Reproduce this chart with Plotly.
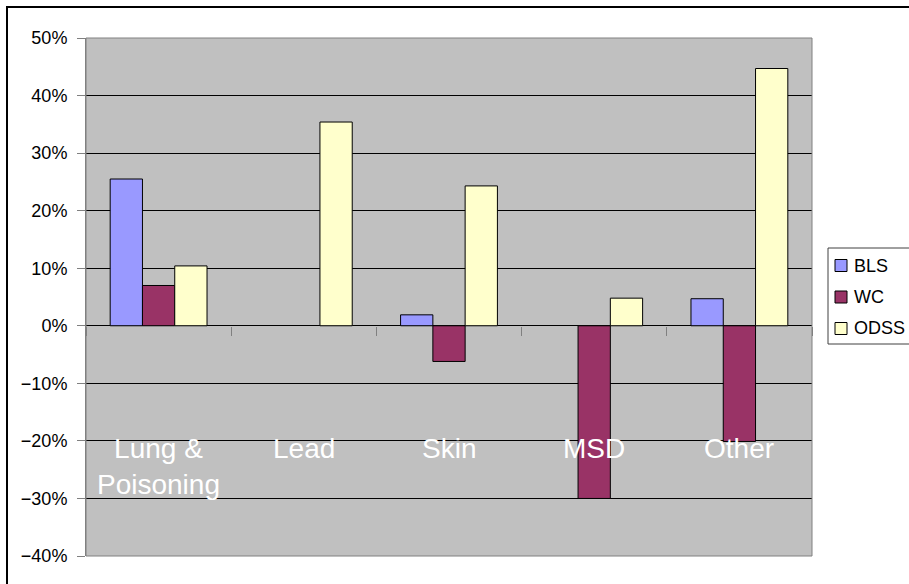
import plotly.graph_objects as go

categories = ["Lung &<br>Poisoning", "Lead", "Skin", "MSD", "Other"]
series_names = ["BLS", "WC", "ODSS"]
bls = [0.255, None, 0.019, None, 0.047]
wc = [0.070, None, -0.062, -0.300, -0.201]
odss = [0.104, 0.354, 0.243, 0.048, 0.447]
series_values = [bls, wc, odss]
series_colors = ["#9999FF", "#993366", "#FFFFCC"]
y_ticks = [-0.4, -0.3, -0.2, -0.1, 0.0, 0.1, 0.2, 0.3, 0.4, 0.5]

FONT = "Arial, Liberation Sans, sans-serif"
W, H = 909, 584
L, R, T, B = 86, 812, 38, 556


def px_x(p):
    return (p - L) / (R - L)


def px_y(p):
    return (B - p) / (B - T)


fig = go.Figure()
for name, vals, col in zip(series_names, series_values, series_colors):
    fig.add_trace(go.Bar(
        x=categories, y=vals, name=name,
        marker=dict(color=col, line=dict(color="black", width=1)),
        showlegend=False,
    ))

shapes = []
annotations = []

# plot area border
shapes.append(dict(type="rect", xref="paper", yref="paper", x0=0, x1=1, y0=0, y1=1,
                   line=dict(color="#808080", width=1), layer="above"))
# outer chart border
shapes.append(dict(type="rect", xref="paper", yref="paper",
                   x0=px_x(7), x1=px_x(1000), y0=px_y(700), y1=px_y(7),
                   line=dict(color="black", width=2)))

# category labels inside plot
for c in categories:
    annotations.append(dict(x=c, y=-0.1825, xref="x", yref="y", text=c, showarrow=False,
                            yanchor="top", xanchor="center",
                            font=dict(family=FONT, size=28, color="white")))

# manual legend
shapes.append(dict(type="rect", xref="paper", yref="paper",
                   x0=px_x(828), x1=px_x(915), y0=px_y(344), y1=px_y(248),
                   line=dict(color="#404040", width=1), fillcolor="white"))
row_y = [265.5, 297, 328.5]
for name, col, ry in zip(series_names, series_colors, row_y):
    shapes.append(dict(type="rect", xref="paper", yref="paper",
                       x0=px_x(835), x1=px_x(847), y0=px_y(ry + 6), y1=px_y(ry - 6),
                       line=dict(color="black", width=1), fillcolor=col))
    annotations.append(dict(x=px_x(852), y=px_y(ry), xref="paper", yref="paper", text=name,
                            showarrow=False, xanchor="left", yanchor="middle",
                            font=dict(family=FONT, size=18, color="black")))

fig.update_layout(
    width=W, height=H,
    margin=dict(l=L, r=W - R, t=T, b=H - B, pad=0),
    paper_bgcolor="white",
    plot_bgcolor="#C0C0C0",
    barmode="group",
    bargap=0.333,
    bargroupgap=0,
    showlegend=False,
    font=dict(family=FONT, size=18, color="black"),
    shapes=shapes,
    annotations=annotations,
    xaxis=dict(
        type="category",
        showticklabels=False,
        showgrid=False,
        showline=False,
        ticks="outside",
        tickson="boundaries",
        ticklen=9,
        tickcolor="#808080",
        tickwidth=1,
        anchor="free",
        position=0.4 / 0.9,
    ),
    yaxis=dict(
        range=[-0.4, 0.5],
        tickvals=y_ticks,
        tickformat=".0%",
        showgrid=True,
        gridcolor="black",
        gridwidth=1,
        zeroline=True,
        zerolinecolor="black",
        zerolinewidth=1,
        showline=True,
        linecolor="#808080",
        linewidth=1,
        ticks="outside",
        ticklen=8,
        tickcolor="#808080",
        ticklabelstandoff=6,
        tickfont=dict(family=FONT, size=18, color="black"),
    ),
)

fig.write_html("out.html")
